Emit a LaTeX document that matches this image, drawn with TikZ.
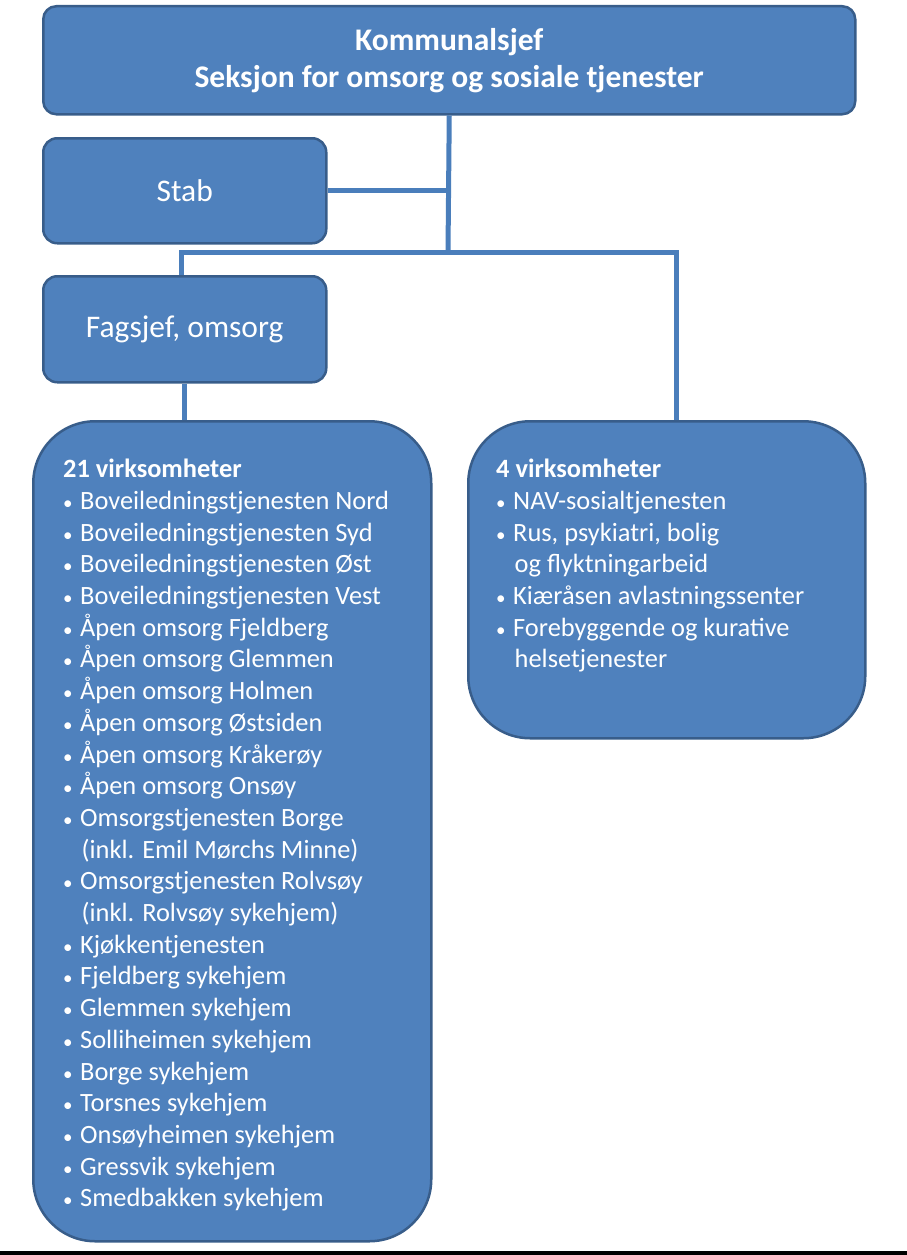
\documentclass[tikz,border=0pt]{standalone}
\usepackage{fontspec}
\setmainfont{Carlito}
\definecolor{boxfill}{HTML}{4F81BD}
\definecolor{boxline}{HTML}{385D8A}
\definecolor{connline}{HTML}{4A7EBB}
\newcommand{\bul}{\makebox[17pt][l]{\fontsize{19}{19}\selectfont •}}
\newcommand{\cont}{\hspace*{18.5pt}}
\begin{document}
\begin{tikzpicture}[x=1pt,y=-1pt,
 box/.style={draw=boxline, line width=2.5pt, fill=boxfill, rounded corners=14pt, anchor=north west, inner sep=0pt, text=white},
 bigbox/.style={box, rounded corners=62pt},
 conn/.style={draw=connline, line width=5pt},
 listtext/.style={anchor=north west, inner sep=0pt, text=white, align=left, font=\fontsize{26.4}{31.7}\selectfont}]
\useasboundingbox (0,0) rectangle (907,1255);

\node[box, minimum width=812pt, minimum height=108pt, rounded corners=13pt, align=center,
  font=\bfseries\fontsize{31.5}{37}\selectfont] (top) at (42,5)
  {Kommunalsjef\\Seksjon for omsorg og sosiale tjenester};
\node[box, minimum width=283pt, minimum height=105pt, font=\fontsize{31.5}{36}\selectfont] (stab) at (42,137) {Stab};
\node[box, minimum width=283pt, minimum height=106pt, font=\fontsize{31.5}{36}\selectfont] (fag) at (42,275) {Fagsjef, omsorg};
\node[bigbox, minimum width=398pt, minimum height=820pt] (left) at (32,420) {};
\node[bigbox, minimum width=397pt, minimum height=317pt] (right) at (467,420) {};

\coordinate (junction) at (448,252);
\coordinate (jl) at (181,252);
\coordinate (jr) at (676,252);

\draw[conn] (top.south) -- (junction);
\draw[conn] (stab.east) -- (stab.east -| junction);
\draw[conn] (jl |- fag.north) -- (jl) -- (jr) -- (jr |- right.north);
\draw[conn] (fag.south) -- (fag.south |- left.north);

\node[listtext] (lefttext) at (63,459) {%
\textbf{21 virksomheter}\\
\bul Boveiledningstjenesten Nord\\
\bul Boveiledningstjenesten Syd\\
\bul Boveiledningstjenesten Øst\\
\bul Boveiledningstjenesten Vest\\
\bul Åpen omsorg Fjeldberg\\
\bul Åpen omsorg Glemmen\\
\bul Åpen omsorg Holmen\\
\bul Åpen omsorg Østsiden\\
\bul Åpen omsorg Kråkerøy\\
\bul Åpen omsorg Onsøy\\
\bul Omsorgstjenesten Borge\\
\cont(inkl. Emil Mørchs Minne)\\
\bul Omsorgstjenesten Rolvsøy\\
\cont(inkl. Rolvsøy sykehjem)\\
\bul Kjøkkentjenesten\\
\bul Fjeldberg sykehjem\\
\bul Glemmen sykehjem\\
\bul Solliheimen sykehjem\\
\bul Borge sykehjem\\
\bul Torsnes sykehjem\\
\bul Onsøyheimen sykehjem\\
\bul Gressvik sykehjem\\
\bul Smedbakken sykehjem};

\node[listtext] (righttext) at (496,459) {%
\textbf{4 virksomheter}\\
\bul NAV-sosialtjenesten\\
\bul Rus, psykiatri, bolig\\
\cont og flyktningarbeid\\
\bul Kiæråsen avlastningssenter\\
\bul Forebyggende og kurative\\
\cont helsetjenester};

\fill[black] (0,1251) rectangle (907,1255);
\end{tikzpicture}
\end{document}
